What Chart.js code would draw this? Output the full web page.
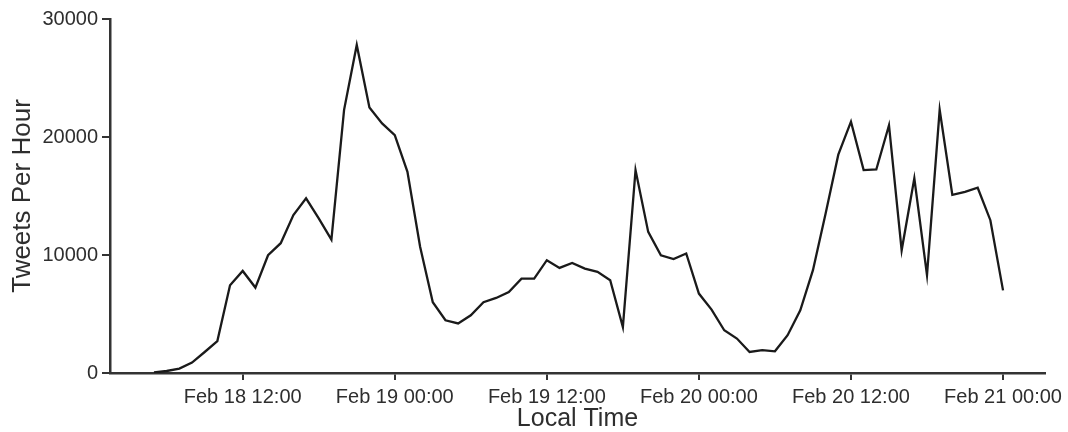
<!DOCTYPE html>
<html>
<head>
<meta charset="utf-8">
<script src="https://cdn.jsdelivr.net/npm/chart.js@4/dist/chart.umd.min.js"></script>
<style>
  html, body { margin: 0; padding: 0; background: #fff; }
  #wrap { width: 1068px; height: 432px; }
</style>
</head>
<body>
<div id="wrap"><canvas id="c"></canvas></div>
<script>
// Hours since Feb 18 00:00 (local time), one point per hour
const hourOffsets = [5,6,7,8,9,10,11,12,13,14,15,16,17,18,19,20,21,22,23,24,25,26,27,28,29,30,31,32,33,34,35,36,37,38,39,40,41,42,43,44,45,46,47,48,49,50,51,52,53,54,55,56,57,58,59,60,61,62,63,64,65,66,67,68,69,70,71,72];
const tweetsPerHour = [50,170,370,880,1780,2710,7440,8650,7240,9980,11000,13380,14800,13100,11300,22300,27800,22500,21150,20150,17050,10700,6000,4470,4200,4890,6000,6360,6870,8000,8000,9560,8910,9330,8850,8570,7860,3900,17200,11960,9980,9650,10130,6730,5370,3620,2920,1780,1930,1840,3200,5320,8710,13520,18500,21300,17200,17250,21000,10400,16500,8300,22300,15100,15350,15700,12950,7000];
const tickHours = [12,24,36,48,60,72];
const tickLabels = ['Feb 18 12:00','Feb 19 00:00','Feb 19 12:00','Feb 20 00:00','Feb 20 12:00','Feb 21 00:00'];
const yTicks = [0,10000,20000,30000];

const points = hourOffsets.map((h, i) => ({x: h, y: tweetsPerHour[i]}));
const FONT = '"Liberation Sans", Arial, sans-serif';

new Chart(document.getElementById('c'), {
  type: 'line',
  data: {
    datasets: [{
      data: points,
      borderColor: '#1a1a1a',
      borderWidth: 2.3,
      pointRadius: 0,
      tension: 0,
      fill: false
    }]
  },
  options: {
    responsive: true,
    maintainAspectRatio: false,
    animation: false,
    layout: { padding: { top: 19, right: 23, left: 0, bottom: 0 } },
    plugins: { legend: { display: false }, tooltip: { enabled: false } },
    scales: {
      x: {
        type: 'linear',
        min: 1.528,
        max: 75.31,
        afterBuildTicks: (s) => { s.ticks = tickHours.map(v => ({value: v})); },
        afterFit: (s) => { s.height = 59; },
        ticks: {
          autoSkip: false,
          maxRotation: 0,
          padding: 5,
          color: '#2e2e2e',
          font: { family: FONT, size: 20 },
          callback: (v) => { const i = tickHours.indexOf(v); return i >= 0 ? tickLabels[i] : ''; }
        },
        grid: { drawOnChartArea: false, drawTicks: true, tickLength: 7, color: '#333', lineWidth: 2 },
        border: { display: true, color: '#333', width: 2.5 },
        title: {
          display: true,
          text: 'Local Time',
          color: '#2e2e2e',
          font: { family: FONT, size: 25, lineHeight: 1 },
          padding: { top: 0, bottom: 0 }
        }
      },
      y: {
        min: 0,
        max: 30000,
        afterBuildTicks: (s) => { s.ticks = yTicks.map(v => ({value: v})); },
        afterFit: (s) => { s.width = 110; },
        ticks: {
          padding: 4,
          color: '#2e2e2e',
          font: { family: FONT, size: 20 },
          callback: (v) => String(v)
        },
        grid: { drawOnChartArea: false, drawTicks: true, tickLength: 8, color: '#333', lineWidth: 2 },
        border: { display: true, color: '#333', width: 2.5 },
        title: {
          display: true,
          text: 'Tweets Per Hour',
          color: '#2e2e2e',
          font: { family: FONT, size: 26, lineHeight: 1 },
          padding: { top: 10, bottom: 0 }
        }
      }
    }
  }
});
</script>
</body>
</html>
